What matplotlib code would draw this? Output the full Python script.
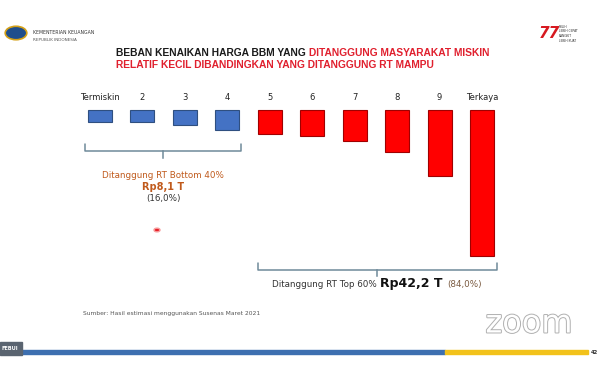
import matplotlib
matplotlib.use("Agg")
import matplotlib.pyplot as plt
import matplotlib.transforms as mtransforms
import matplotlib.patheffects as pe
from matplotlib.patches import Rectangle, Circle

# beban per desil (Rp triliun)
deciles = ["Termiskin", "2", "3", "4", "5", "6", "7", "8", "9", "Terkaya"]
burden = [1.5, 1.5, 1.9, 2.5, 2.9, 3.2, 3.8, 5.2, 8.1, 18.0]
bar_colors = ["#4472c4"] * 4 + ["#ff0000"] * 6
edge_colors = ["#2f4f80"] * 4 + ["#a00000"] * 6

W, H = 600, 374
fig = plt.figure(figsize=(6, 3.74), dpi=100)
fig.patch.set_facecolor("white")

# axes over the whole slide; x unit = one decile, y unit = Rp 1 T
ax = fig.add_axes([0, 0, 1, 1])
px_x = 42.44
px_y = 8.11
ax.set_xlim(-100 / px_x, (W - 100) / px_x)
ax.set_ylim((H - 110) / px_y, -110 / px_y)
ax.axis("off")

xs = list(range(len(deciles)))
ax.bar(xs, burden, width=0.565, bottom=0, color=bar_colors,
       edgecolor=edge_colors, linewidth=0.8)


def fy(p):
    return 1 - p / H


def fx(p):
    return p / W


trans = mtransforms.blended_transform_factory(ax.transData, fig.transFigure)
for x, lab in zip(xs, deciles):
    ax.text(x, fy(97), lab, transform=trans, ha="center", va="center",
            fontsize=6, color="#222222")

# brackets
br_col = "#6f8a9a"


def bracket(x0, x1, yl, up=7, down=7):
    xm = (x0 + x1) / 2
    ax.plot([x0, x0, x1, x1], [fy(yl - up), fy(yl), fy(yl), fy(yl - up)],
            transform=trans, color=br_col, lw=1.1, solid_capstyle="round")
    ax.plot([xm, xm], [fy(yl), fy(yl + down)], transform=trans,
            color=br_col, lw=1.1)
    return xm


xm_l = bracket(xs[0] - 0.35, xs[3] + 0.33, 151)
xm_r = bracket(xs[4] - 0.28, xs[9] + 0.35, 270, up=7, down=6)

brown = "#c05a1c"
ax.text(xm_l, fy(175), "Ditanggung RT Bottom 40%", transform=trans,
        ha="center", va="center", fontsize=6.3, color=brown)
ax.text(xm_l, fy(187), "Rp8,1 T", transform=trans, ha="center",
        va="center", fontsize=7, color=brown, fontweight="bold")
ax.text(xm_l, fy(198), "(16,0%)", transform=trans, ha="center",
        va="center", fontsize=6.3, color="#333333")

renderer = fig.canvas.get_renderer()


def text_row(x_px, y_px, parts, family=None):
    # parts: list of (string, size, weight, color); placed left to right
    x = x_px
    for s, size, weight, color in parts:
        kw = {"family": family} if family else {}
        t = fig.text(fx(x), fy(y_px), s, fontsize=size, fontweight=weight,
                     color=color, ha="left", va="baseline", **kw)
        bb = t.get_window_extent(renderer=renderer)
        x += bb.width
    return x


# bottom-right summary, centered under right bracket
parts_r = [("Ditanggung RT Top 60% ", 6.3, "normal", "#333333"),
           ("Rp42,2 T ", 9, "bold", "#111111"),
           ("(84,0%)", 6.3, "normal", "#7a5a40")]
tmp = [fig.text(0, 0, s, fontsize=sz, fontweight=w) for s, sz, w, c in parts_r]
total_w = sum(t.get_window_extent(renderer=renderer).width for t in tmp)
for t in tmp:
    t.remove()
text_row(377 - total_w / 2, 287, parts_r)

# title, sized so line 1 spans about 377 px like the slide
title_black = "#1a1a1a"
title_red = "#e0202e"
title_font = "Liberation Sans"
line1a = "BEBAN KENAIKAN HARGA BBM YANG "
line1b = "DITANGGUNG MASYARAKAT MISKIN"
probe = fig.text(0, 0, line1a + line1b, fontsize=10, fontweight="bold",
                 family=title_font)
tsize = 10 * 377 / probe.get_window_extent(renderer=renderer).width
probe.remove()
text_row(116, 56, [(line1a, tsize, "bold", title_black),
                   (line1b, tsize, "bold", title_red)], family=title_font)
text_row(116, 67.5, [("RELATIF KECIL DIBANDINGKAN YANG DITANGGUNG RT MAMPU",
                      tsize, "bold", title_red)], family=title_font)

# source note
fig.text(fx(83), fy(313), "Sumber: Hasil estimasi menggunakan Susenas Maret 2021",
         fontsize=4.3, color="#555555", va="center")

# header logos
fig.patches.append(Circle((fx(16), fy(33)), 0.018, transform=fig.transFigure,
                          facecolor="#1f4e8c", edgecolor="#d4a017", lw=1.2))
fig.text(fx(33), fy(32), "KEMENTERIAN KEUANGAN", fontsize=3.3,
         color="#333333", va="center")
fig.text(fx(33), fy(40), "REPUBLIK INDONESIA", fontsize=3.0,
         color="#555555", va="center")
fig.text(fx(539), fy(34), "77", fontsize=11, fontweight="bold",
         fontstyle="italic", color="#d71920", va="center")
for i, s in enumerate(["PULIH", "LEBIH CEPAT", "BANGKIT", "LEBIH KUAT"]):
    fig.text(fx(559), fy(27 + i * 4.5), s, fontsize=2.2, color="#333333",
             va="center")

# laser pointer dot
fig.patches.append(Circle((fx(157), fy(230)), 0.005, transform=fig.transFigure,
                          facecolor="#e8202a", edgecolor="#f7a0a0", lw=1))

# zoom watermark
fig.text(fx(529), fy(324), "zoom", fontsize=23, color="white", ha="center",
         va="center", path_effects=[pe.withStroke(linewidth=1.4,
                                                  foreground="#b0b0b0")])

# bottom strip
fig.patches.append(Rectangle((fx(22), fy(354)), fx(445 - 22), 4 / H,
                             transform=fig.transFigure, color="#3d6fb0"))
fig.patches.append(Rectangle((fx(445), fy(354)), fx(588 - 445), 4 / H,
                             transform=fig.transFigure, color="#f2c21b"))
fig.patches.append(Rectangle((0, fy(355)), fx(22), 13 / H,
                             transform=fig.transFigure, color="#5a6470"))
fig.text(fx(1), fy(348.5), "FEBUI", fontsize=3.6, color="white",
         fontweight="bold", va="center")
fig.text(fx(591), fy(352), "42", fontsize=3.8, color="#333333",
         fontweight="bold", va="center")

fig.savefig("out.png", dpi=100, facecolor="white")
